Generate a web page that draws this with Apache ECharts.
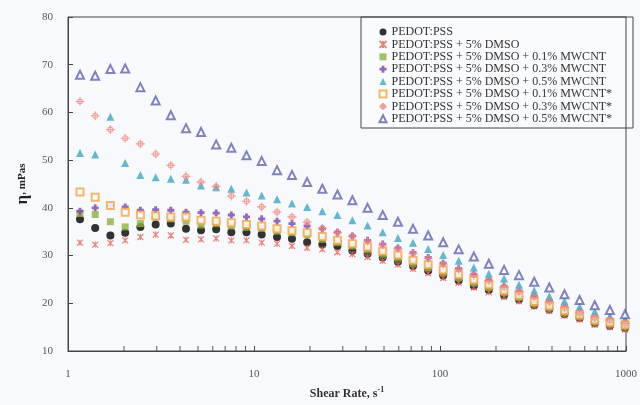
<!DOCTYPE html>
<html>
<head>
<meta charset="utf-8">
<script src="https://cdn.jsdelivr.net/npm/echarts@6/dist/echarts.min.js"></script>
<style>
html,body{margin:0;padding:0;background:#f8f9fc;}
#chart{width:640px;height:405px;}
</style>
</head>
<body>
<div id="chart"></div>
<script>
/*
* viscosity vs shear rate
*/
var shearRate=[1.16,1.40,1.69,2.03,2.45,2.96,3.57,4.31,5.19,6.26,7.55,9.11,11.0,13.3,16.0,19.3,23.3,28.1,33.8,40.8,49.2,59.4,71.6,86.4,104,126,152,183,221,266,321,387,467,563,679,819,988];
var names=['PEDOT:PSS','PEDOT:PSS + 5% DMSO','PEDOT:PSS + 5% DMSO + 0.1% MWCNT','PEDOT:PSS + 5% DMSO + 0.3% MWCNT','PEDOT:PSS + 5% DMSO + 0.5% MWCNT','PEDOT:PSS + 5% DMSO + 0.1% MWCNT*','PEDOT:PSS + 5% DMSO + 0.3% MWCNT*','PEDOT:PSS + 5% DMSO + 0.5% MWCNT*'];
var pedot=[37.6,35.8,34.2,34.8,36.0,36.5,36.7,35.6,35.3,35.5,34.9,34.9,34.4,33.9,33.5,32.8,32.3,32.0,31.0,30.4,29.6,28.7,27.8,26.8,25.8,24.8,23.7,22.8,21.7,20.8,19.6,18.7,17.7,16.9,15.8,15.3,14.8];
var dmso=[32.7,32.3,32.6,33.2,33.9,34.4,34.2,33.3,33.4,33.6,33.2,33.2,32.7,32.5,32.0,31.6,31.3,30.7,30.3,29.7,28.9,28.1,27.2,26.3,25.3,24.3,23.3,22.3,21.3,20.4,19.3,18.4,17.4,16.6,15.5,15.0,14.5];
var cnt01=[38.8,38.6,37.1,36.0,36.7,38.1,37.7,37.2,36.4,36.7,36.2,35.9,35.7,35.1,34.8,34.4,33.4,32.7,32.0,31.2,30.3,29.5,28.4,27.5,26.4,25.4,24.3,23.3,22.2,21.2,19.9,19.0,18.0,17.2,16.1,15.6,15.1];
var cnt03=[39.3,40.0,40.5,40.2,39.5,39.6,39.5,39.1,39.0,38.9,38.5,38.1,37.7,37.2,36.7,36.2,35.6,34.9,34.1,33.2,32.4,31.6,30.6,29.6,28.4,27.3,26.1,24.9,23.6,22.6,21.5,20.5,19.3,18.2,17.2,16.7,16.0];
var cnt05=[51.5,51.2,59.1,49.4,46.9,46.4,46.1,45.9,44.7,44.3,44.0,43.2,42.6,41.8,40.9,40.2,39.3,38.5,37.4,36.3,34.9,33.7,32.7,31.4,30.1,28.9,27.5,26.2,25.2,23.9,22.7,21.5,20.5,19.3,18.2,17.3,16.7];
var cnt01s=[43.3,42.2,40.5,39.1,38.5,38.3,38.1,38.1,37.4,37.2,36.9,36.5,36.2,35.6,35.2,34.8,34.0,33.2,32.5,31.8,30.9,30.1,29.0,28.1,27.0,26.0,24.9,23.9,22.7,21.7,20.4,19.5,18.5,17.6,16.5,16.0,15.5];
var cnt03s=[62.3,59.3,56.4,54.6,53.4,51.3,48.9,46.6,45.4,44.5,42.5,41.4,40.2,39.1,38.1,37.0,35.7,34.8,34.0,33.0,32.2,31.4,30.4,29.4,28.2,27.1,25.9,24.7,23.4,22.4,21.3,20.3,19.1,18.0,17.0,16.5,15.8];
var cnt05s=[67.9,67.7,69.1,69.2,65.3,62.5,59.4,56.7,55.9,53.3,52.6,51.0,49.8,47.9,46.9,45.4,44.0,42.8,41.6,40.0,38.5,37.1,35.6,34.2,32.8,31.3,29.8,28.3,27.0,25.9,24.5,23.3,21.9,20.7,19.6,18.6,17.7];
var minorTicks=[2,3,4,5,6,7,8,9,20,30,40,50,60,70,80,90,200,300,400,500,600,700,800,900];

var FONT='Liberation Serif';

function pts(vals){
	var out=[];
	for(var i=0;i<shearRate.length;i++){
		out.push([shearRate[i],vals[i]]);
	}
	return out;
}
function sc(name,vals,symbol,size,style){
	return {
		name:name,
		type:'scatter',
		symbol:symbol,
		symbolSize:size,
		itemStyle:style,
		data:pts(vals)
	};
}

var tickData=[];
for(var i=0;i<minorTicks.length;i++){
	tickData.push([minorTicks[i],10]);
}

var option={
	backgroundColor:'#f8f9fc',
	animation:false,
	grid:{
		left:68,right:12,top:17,bottom:54,
		show:true,borderColor:'#444',borderWidth:1
	},
	legend:{
		orient:'vertical',
		left:372,top:21,
		itemWidth:7,itemHeight:7,itemGap:0.4,itemTextGap:4,
		textStyle:{fontFamily:FONT,fontSize:12,color:'#333',lineHeight:12},
		data:names
	},
	graphic:[{
		type:'rect',
		shape:{x:361,y:17,width:272,height:111},
		style:{fill:'#fafbfd',stroke:'#444',lineWidth:1},
		z:-1,silent:true
	}],
	xAxis:{
		type:'log',logBase:10,min:1,max:1000,
		name:'{b|Shear Rate, s}{sup|-1}',
		nameLocation:'middle',nameGap:35,
		nameTextStyle:{
			rich:{
				b:{fontFamily:FONT,fontSize:12,fontWeight:'bold',color:'#333'},
				sup:{fontFamily:FONT,fontSize:8,fontWeight:'bold',color:'#333',verticalAlign:'top',padding:[0,0,7,0]}
			}
		},
		axisLine:{lineStyle:{color:'#444',width:1}},
		axisTick:{inside:true,length:5,lineStyle:{color:'#444'}},
		axisLabel:{fontFamily:FONT,fontSize:11,color:'#555',margin:18,
			formatter:function(v){return String(Math.round(v));}},
		splitLine:{show:false}
	},
	yAxis:{
		type:'value',min:10,max:80,interval:10,
		name:'{eta|η}{u|, mPas}',
		nameLocation:'middle',nameGap:36,nameRotate:90,
		nameTextStyle:{
			rich:{
				eta:{fontFamily:FONT,fontSize:17,fontWeight:'bold',color:'#222'},
				u:{fontFamily:FONT,fontSize:11,fontWeight:'bold',color:'#222'}
			}
		},
		axisLine:{show:true,lineStyle:{color:'#444',width:1}},
		axisTick:{show:true,inside:true,length:5,lineStyle:{color:'#444'}},
		axisLabel:{fontFamily:FONT,fontSize:11,color:'#555',margin:15},
		splitLine:{show:false}
	},
	series:[
		sc(names[0],pedot,'circle',8,{color:'#000'}),
		sc(names[1],dmso,'path://M0,0L10,10M10,0L0,10M5,0L5,10',6,{color:'none',borderColor:'#e2665a',borderWidth:1.2}),
		sc(names[2],cnt01,'rect',7,{color:'#8bb33f'}),
		sc(names[3],cnt03,'path://M3,0H7V3H10V7H7V10H3V7H0V3H3Z',7,{color:'#7a45a8'}),
		sc(names[4],cnt05,'triangle',8,{color:'#3fa6c0'}),
		sc(names[5],cnt01s,'emptyRect',7,{color:'#f4a24c',borderWidth:1}),
		sc(names[6],cnt03s,'path://M5,2L7.1,2.9L8,5L7.1,7.1L5,8L2.9,7.1L2,5L2.9,2.9ZM5,0V10M0,5H10',9,{color:'none',borderColor:'#ef8a80',borderWidth:1.1}),
		sc(names[7],cnt05s,'emptyTriangle',8,{color:'#6064ac',borderWidth:1}),
		{
			name:'ticks',type:'scatter',silent:true,clip:false,z:5,
			symbol:'rect',symbolSize:[1,5],symbolOffset:[0,-2.5],
			itemStyle:{color:'#333'},
			data:tickData
		}
	]
};

var myChart=echarts.init(document.getElementById('chart'));
myChart.setOption(option);
</script>
</body>
</html>
